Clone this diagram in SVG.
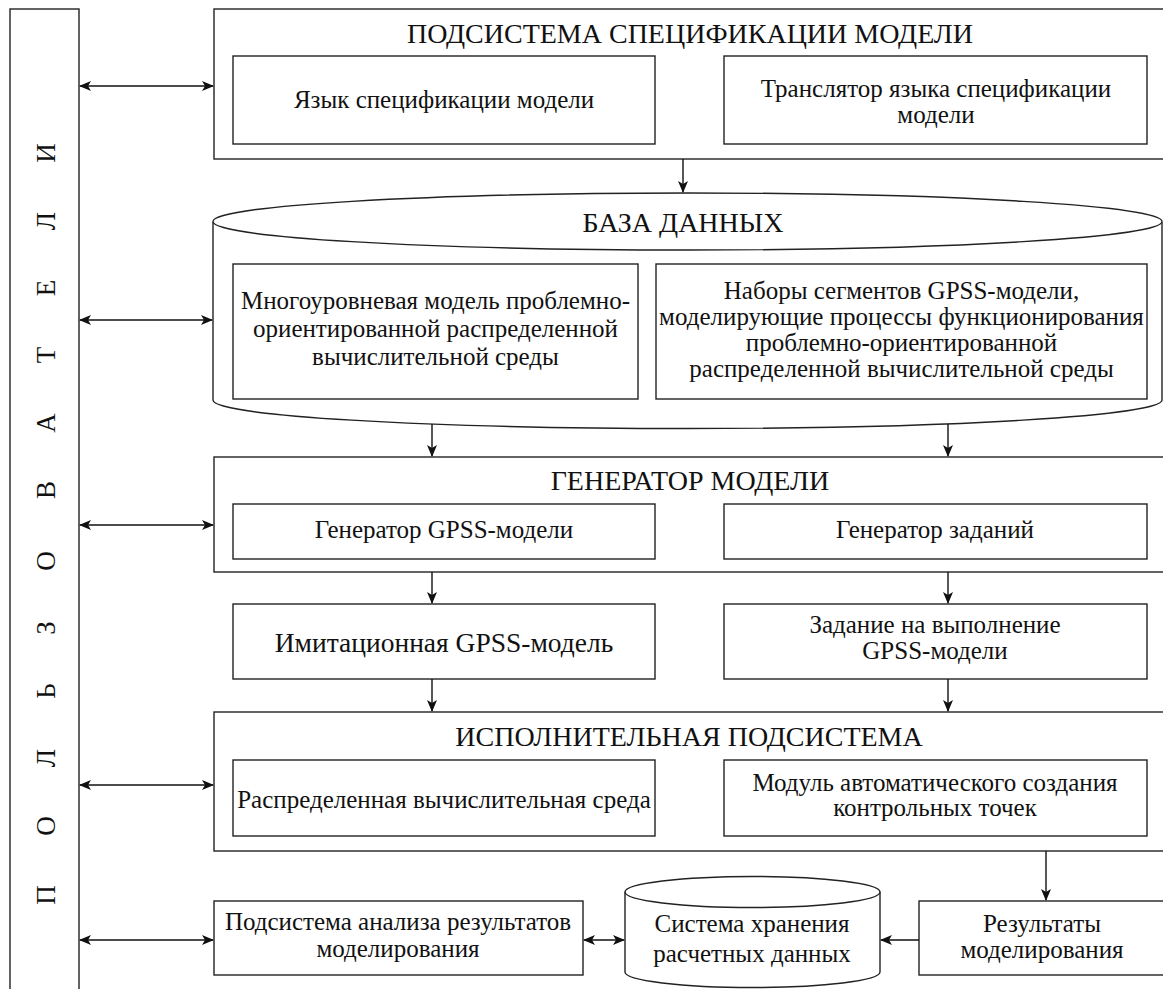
<svg xmlns="http://www.w3.org/2000/svg" width="1163" height="989" viewBox="0 0 1163 989">
<defs>
<marker id="ah" viewBox="0 0 12 10" markerWidth="12" markerHeight="10" refX="11" refY="5" orient="auto-start-reverse" markerUnits="userSpaceOnUse">
<path d="M0,0 L12,5 L0,10 L3,5 z" fill="#111"/>
</marker>
<style>
.b{fill:#fff;stroke:#222;stroke-width:1.4}
.c{fill:none;stroke:#222;stroke-width:1.4}
.t{font-family:"Liberation Serif","Times New Roman",serif;font-size:25px;fill:#111;text-anchor:middle}
.h{font-family:"Liberation Serif","Times New Roman",serif;font-size:28px;fill:#111;text-anchor:middle}
.v{font-family:"Liberation Serif","Times New Roman",serif;font-size:27px;fill:#111;text-anchor:middle}
.l{stroke:#111;stroke-width:1.4;fill:none}
</style>
</defs>
<rect width="1163" height="989" fill="#fff"/>

<g id="users">
<rect class="b" x="10" y="9" width="69" height="990"/>
<text class="v" transform="translate(55,0) rotate(-90)" x="-895 -826 -758 -691 -628 -561 -490 -423 -355 -288 -221 -153" y="0">ПОЛЬЗОВАТЕЛИ</text>
</g>

<g id="spec">
<rect class="b" x="214" y="9" width="960" height="150"/>
<text class="h" x="690" y="43">ПОДСИСТЕМА СПЕЦИФИКАЦИИ МОДЕЛИ</text>
<rect class="b" x="233" y="56" width="422" height="88"/>
<text class="t" x="444" y="108">Язык спецификации модели</text>
<rect class="b" x="724" y="56" width="423" height="88"/>
<text class="t" x="936" y="97">Транслятор языка спецификации</text>
<text class="t" x="936" y="123">модели</text>
</g>

<g id="db">
<path class="b" d="M213,222 L213,400 A474.5,28.5 0 0 0 1162,400 L1162,222"/>
<ellipse class="b" cx="687.5" cy="221.5" rx="474.5" ry="28.5"/>
<text class="h" x="683" y="232">БАЗА ДАННЫХ</text>
<rect class="b" x="233" y="264" width="405" height="135"/>
<text class="t" x="435.5" y="309">Многоуровневая модель проблемно-</text>
<text class="t" x="435.5" y="337">ориентированной распределенной</text>
<text class="t" x="435.5" y="365">вычислительной среды</text>
<rect class="b" x="656" y="264" width="491" height="135"/>
<text class="t" x="901.5" y="299">Наборы сегментов GPSS-модели,</text>
<text class="t" x="901.5" y="325">моделирующие процессы функционирования</text>
<text class="t" x="901.5" y="351">проблемно-ориентированной</text>
<text class="t" x="901.5" y="377">распределенной вычислительной среды</text>
</g>

<g id="gen">
<rect class="b" x="214" y="457" width="960" height="115"/>
<text class="h" x="690" y="490">ГЕНЕРАТОР МОДЕЛИ</text>
<rect class="b" x="233" y="504" width="422" height="55"/>
<text class="t" x="444" y="538">Генератор GPSS-модели</text>
<rect class="b" x="724" y="504" width="423" height="55"/>
<text class="t" x="935" y="538">Генератор заданий</text>
</g>

<g id="imit">
<rect class="b" x="233" y="604" width="422" height="75"/>
<text class="t" style="font-size:27.5px" x="444" y="652">Имитационная GPSS-модель</text>
</g>

<g id="task">
<rect class="b" x="724" y="604" width="423" height="75"/>
<text class="t" x="935" y="633">Задание на выполнение</text>
<text class="t" x="935" y="659">GPSS-модели</text>
</g>

<g id="exec">
<rect class="b" x="214" y="712" width="960" height="139"/>
<text class="h" x="689" y="746">ИСПОЛНИТЕЛЬНАЯ ПОДСИСТЕМА</text>
<rect class="b" x="233" y="760" width="422" height="76"/>
<text class="t" x="444" y="808">Распределенная вычислительная среда</text>
<rect class="b" x="724" y="760" width="423" height="76"/>
<text class="t" x="935" y="791">Модуль автоматического создания</text>
<text class="t" x="935" y="816">контрольных точек</text>
</g>

<g id="analysis">
<rect class="b" x="214" y="901" width="369" height="74"/>
<text class="t" x="398" y="930">Подсистема анализа результатов</text>
<text class="t" x="398" y="957">моделирования</text>
</g>

<g id="storage">
<path class="b" d="M625,892 L625,972 A127.5,15.5 0 0 0 880,972 L880,892"/>
<ellipse class="b" cx="752.5" cy="892" rx="127.5" ry="15.5"/>
<text class="t" x="752" y="932">Система хранения</text>
<text class="t" x="752" y="962">расчетных данных</text>
</g>

<g id="results">
<rect class="b" x="919" y="901" width="250" height="74"/>
<text class="t" x="1042" y="932">Результаты</text>
<text class="t" x="1042" y="958">моделирования</text>
</g>

<g id="connectors">
<line class="l" x1="80" y1="86" x2="213" y2="86" marker-start="url(#ah)" marker-end="url(#ah)"/>
<line class="l" x1="80" y1="320" x2="212" y2="320" marker-start="url(#ah)" marker-end="url(#ah)"/>
<line class="l" x1="80" y1="525" x2="213" y2="525" marker-start="url(#ah)" marker-end="url(#ah)"/>
<line class="l" x1="80" y1="785" x2="213" y2="785" marker-start="url(#ah)" marker-end="url(#ah)"/>
<line class="l" x1="80" y1="940" x2="213" y2="940" marker-start="url(#ah)" marker-end="url(#ah)"/>
<line class="l" x1="683" y1="159" x2="683" y2="192" marker-end="url(#ah)"/>
<line class="l" x1="432" y1="424" x2="432" y2="456" marker-end="url(#ah)"/>
<line class="l" x1="948" y1="424" x2="948" y2="456" marker-end="url(#ah)"/>
<line class="l" x1="432" y1="572" x2="432" y2="603" marker-end="url(#ah)"/>
<line class="l" x1="948" y1="572" x2="948" y2="603" marker-end="url(#ah)"/>
<line class="l" x1="432" y1="679" x2="432" y2="711" marker-end="url(#ah)"/>
<line class="l" x1="948" y1="679" x2="948" y2="711" marker-end="url(#ah)"/>
<line class="l" x1="1046" y1="851" x2="1046" y2="900" marker-end="url(#ah)"/>
<line class="l" x1="919" y1="940" x2="881" y2="940" marker-end="url(#ah)"/>
<line class="l" x1="584" y1="940" x2="624" y2="940" marker-start="url(#ah)" marker-end="url(#ah)"/>
</g>
</svg>
